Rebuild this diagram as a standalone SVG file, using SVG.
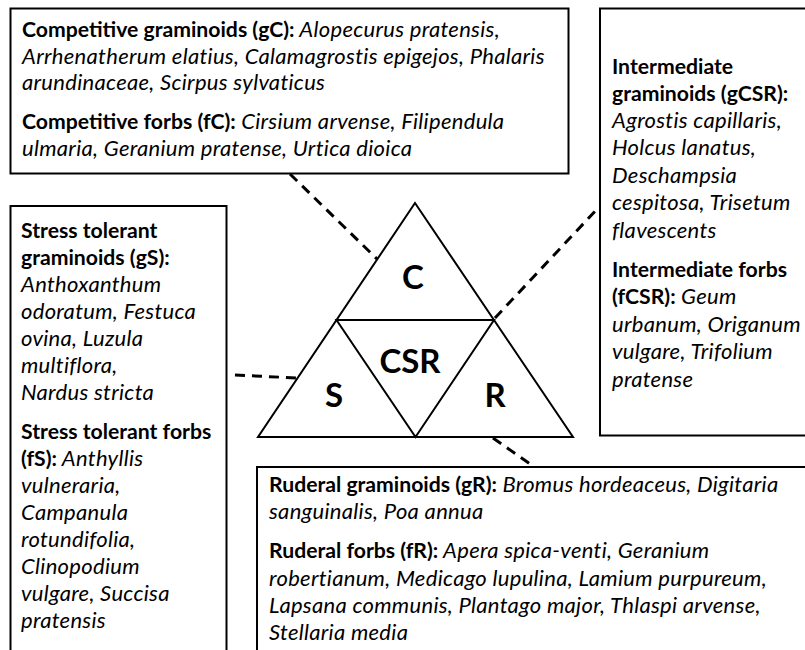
<svg xmlns="http://www.w3.org/2000/svg" width="805" height="650" viewBox="0 0 805 650">
<style>
.box{fill:#fff;stroke:#000;stroke-width:2}
.t{font-family:Lato,"Open Sans","Liberation Sans",sans-serif;font-size:21px;fill:#000}
.b{font-weight:bold;font-style:normal;font-size:21.2px;letter-spacing:0}
.i{font-style:italic;font-weight:normal;font-size:22px;letter-spacing:0.3px}
.tri{fill:none;stroke:#000;stroke-width:2;stroke-linejoin:miter}
.big{font-family:Lato,"Open Sans","Liberation Sans",sans-serif;font-weight:bold;font-size:33px;fill:#000;text-anchor:middle}
.dash{stroke:#000;stroke-width:3;stroke-dasharray:10 7;fill:none}
</style>
<rect width="805" height="650" fill="#fff"/>
<g id="connectors">
<line class="dash" x1="290" y1="174" x2="377" y2="259"/>
<line class="dash" x1="495" y1="318" x2="599" y2="207"/>
<line class="dash" x1="235" y1="375" x2="297" y2="378"/>
<line class="dash" x1="493" y1="438" x2="533" y2="466"/>
</g>
<g id="node-gC">
<rect class="box" x="10.5" y="8.5" width="558" height="165"/>
<text class="t" x="22" y="37"><tspan class="b">Competitive graminoids (gC):</tspan><tspan class="i"> Alopecurus pratensis,</tspan></text>
<text class="t i" x="22" y="63.5">Arrhenatherum elatius, Calamagrostis epigejos, Phalaris</text>
<text class="t i" x="22" y="90">arundinaceae, Scirpus sylvaticus</text>
<text class="t" x="22" y="129"><tspan class="b">Competitive forbs (fC):</tspan><tspan class="i"> Cirsium arvense, Filipendula</tspan></text>
<text class="t i" x="22" y="156">ulmaria, Geranium pratense, Urtica dioica</text>
</g>
<g id="node-gCSR">
<rect class="box" x="600" y="8.5" width="220" height="427"/>
<text class="t b" x="612" y="74">Intermediate</text>
<text class="t b" x="612" y="101">graminoids (gCSR):</text>
<text class="t i" x="612" y="128">Agrostis capillaris,</text>
<text class="t i" x="612" y="155">Holcus lanatus,</text>
<text class="t i" x="612" y="183">Deschampsia</text>
<text class="t i" x="612" y="210">cespitosa, Trisetum</text>
<text class="t i" x="612" y="238">flavescents</text>
<text class="t b" x="612" y="277">Intermediate forbs</text>
<text class="t" x="612" y="304"><tspan class="b">(fCSR):</tspan><tspan class="i"> Geum</tspan></text>
<text class="t i" x="612" y="332">urbanum, Origanum</text>
<text class="t i" x="612" y="359">vulgare, Trifolium</text>
<text class="t i" x="612" y="387">pratense</text>
</g>
<g id="node-gS">
<rect class="box" x="10.5" y="206" width="216" height="470"/>
<text class="t b" x="21" y="238">Stress tolerant</text>
<text class="t b" x="21" y="265">graminoids (gS):</text>
<text class="t i" x="21" y="292">Anthoxanthum</text>
<text class="t i" x="21" y="319">odoratum, Festuca</text>
<text class="t i" x="21" y="346">ovina, Luzula</text>
<text class="t i" x="21" y="373">multiflora,</text>
<text class="t i" x="21" y="400">Nardus stricta</text>
<text class="t b" x="21" y="439">Stress tolerant forbs</text>
<text class="t" x="21" y="466"><tspan class="b">(fS):</tspan><tspan class="i"> Anthyllis</tspan></text>
<text class="t i" x="21" y="493">vulneraria,</text>
<text class="t i" x="21" y="520">Campanula</text>
<text class="t i" x="21" y="547">rotundifolia,</text>
<text class="t i" x="21" y="574">Clinopodium</text>
<text class="t i" x="21" y="601">vulgare, Succisa</text>
<text class="t i" x="21" y="628">pratensis</text>
</g>
<g id="node-gR">
<rect class="box" x="257" y="467" width="560" height="200"/>
<text class="t" x="269" y="492"><tspan class="b">Ruderal graminoids (gR):</tspan><tspan class="i"> Bromus hordeaceus, Digitaria</tspan></text>
<text class="t i" x="269" y="519">sanguinalis, Poa annua</text>
<text class="t" x="269" y="558"><tspan class="b">Ruderal forbs (fR):</tspan><tspan class="i"> Apera spica-venti, Geranium</tspan></text>
<text class="t i" x="269" y="586">robertianum, Medicago lupulina, Lamium purpureum,</text>
<text class="t i" x="269" y="613">Lapsana communis, Plantago major, Thlaspi arvense,</text>
<text class="t i" x="269" y="640">Stellaria media</text>
</g>
<g id="node-triangle">
<polygon class="tri" points="415,203 573,437 258,437"/>
<polygon class="tri" points="336.5,320 494,320 415.5,437"/>
<text class="big" x="413" y="289">C</text>
<text class="big" x="410" y="373">CSR</text>
<text class="big" x="334" y="407">S</text>
<text class="big" x="495" y="407">R</text>
</g>
</svg>
